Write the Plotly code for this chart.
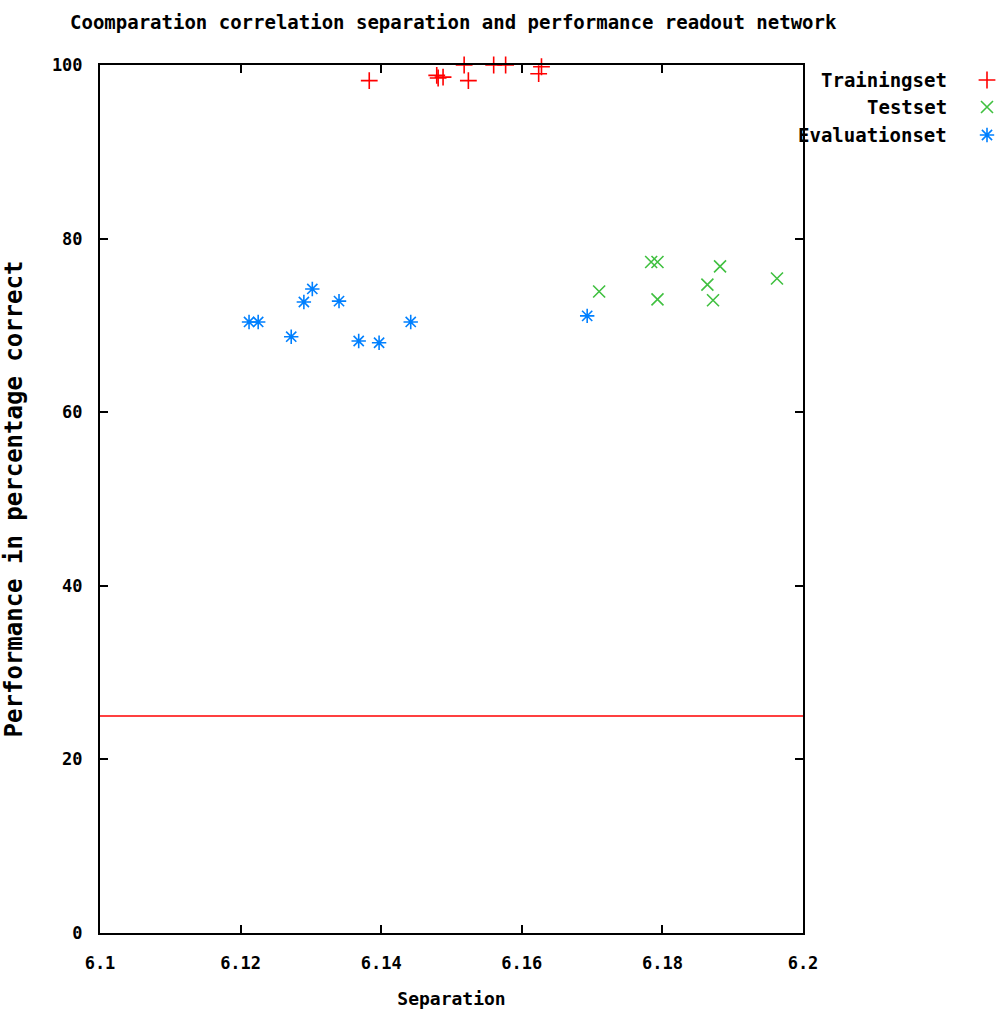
import plotly.graph_objects as go

# Data
train_sep = [6.1383, 6.1479, 6.1481, 6.1488, 6.1518, 6.1524, 6.1560, 6.1577, 6.1624, 6.1628]
train_perf = [98.2, 98.8, 98.5, 98.6, 100.0, 98.2, 100.0, 100.0, 99.0, 99.8]

test_sep = [6.1710, 6.1784, 6.1793, 6.1793, 6.1864, 6.1872, 6.1882, 6.1963]
test_perf = [73.9, 77.3, 77.3, 73.0, 74.7, 72.9, 76.8, 75.4]

eval_sep = [6.1212, 6.1225, 6.1272, 6.1290, 6.1302, 6.1340, 6.1368, 6.1397, 6.1442, 6.1693]
eval_perf = [70.4, 70.4, 68.7, 72.7, 74.2, 72.8, 68.2, 68.0, 70.4, 71.1]

chance_level = 25.0
x_range = [6.1, 6.2]
y_range = [0, 100]
x_ticks = [6.1, 6.12, 6.14, 6.16, 6.18, 6.2]
x_ticklabels = ["6.1", "6.12", "6.14", "6.16", "6.18", "6.2"]
y_ticks = [0, 20, 40, 60, 80, 100]

series_names = ["Trainingset", "Testset", "Evaluationset"]
series_colors = ["#ff0000", "#40c040", "#0080ff"]
series_symbols = ["cross-thin-open", "x-thin-open", "asterisk-open"]

FONT = "DejaVu Sans Mono"

# Page layout: margins leave 100..1000 px horizontally; main x axis uses 100..803
PLOT_L, PLOT_R, FULL_R = 100, 803, 1000
PLOT_T, PLOT_B = 65, 933
x_dom_end = (PLOT_R - PLOT_L) / (FULL_R - PLOT_L)

fig = go.Figure()

fig.add_trace(go.Scatter(
    x=x_range, y=[chance_level, chance_level], mode="lines",
    line=dict(color="#ff0000", width=1.5), showlegend=False, hoverinfo="skip"))

for xs, ys, sym, col, name in zip([train_sep, test_sep, eval_sep],
                                  [train_perf, test_perf, eval_perf],
                                  series_symbols, series_colors, series_names):
    fig.add_trace(go.Scatter(
        x=xs, y=ys, mode="markers", name=name,
        marker=dict(symbol=sym, size=12, color=col, line=dict(color=col, width=1.6)),
        showlegend=False, cliponaxis=False))

# Legend (gnuplot style: text, then symbol to its right).
# Separate hidden axes x2/y2 map absolute page pixels across the full drawing area.
legend_y = [80, 107, 135]
fig.add_trace(go.Scatter(
    x=[987] * 3, y=legend_y, xaxis="x2", yaxis="y2", mode="markers",
    marker=dict(symbol=series_symbols, size=12, color=series_colors,
                line=dict(color=series_colors, width=1.6)),
    showlegend=False, hoverinfo="skip", cliponaxis=False))
for name, py in zip(series_names, legend_y):
    fig.add_annotation(xref="x2", yref="y2", x=949, y=py,
                       text=name, showarrow=False, xanchor="right", yanchor="middle",
                       font=dict(family=FONT, size=19, color="black", weight="bold"))

axis_common = dict(
    showline=True, linecolor="black", linewidth=2, mirror="ticks",
    ticks="inside", ticklen=8, tickwidth=1.5, tickcolor="black",
    showgrid=False, zeroline=False, automargin=False,
    tickfont=dict(family=FONT, size=17, color="black", weight="bold"),
)

fig.update_layout(
    width=1000, height=1020,
    margin=dict(l=PLOT_L, r=1000 - FULL_R, t=PLOT_T, b=1020 - PLOT_B, pad=0),
    paper_bgcolor="white", plot_bgcolor="rgba(0,0,0,0)",
    title=dict(text="Coomparation correlation separation and performance readout network",
               x=0.07, xanchor="left", y=1 - 22 / 1020, yanchor="middle",
               font=dict(family=FONT, size=19, color="black", weight="bold")),
    xaxis=dict(domain=[0, x_dom_end], range=x_range, tickvals=x_ticks, ticktext=x_ticklabels,
               ticklabelstandoff=14,
               title=dict(text="Separation", font=dict(family=FONT, size=18, color="black", weight="bold"),
                          standoff=20),
               **axis_common),
    yaxis=dict(range=y_range, tickvals=y_ticks, ticklabelstandoff=12,
               title=dict(text="Performance in percentage correct",
                          font=dict(family=FONT, size=24, color="black", weight="bold"), standoff=26),
               **axis_common),
    xaxis2=dict(domain=[0, 1], range=[PLOT_L, FULL_R], anchor="y2", visible=False,
                fixedrange=True),
    yaxis2=dict(domain=[0, 1], range=[PLOT_B, PLOT_T], anchor="x2", visible=False,
                fixedrange=True),
    showlegend=False,
)

fig.write_html("out.html")
